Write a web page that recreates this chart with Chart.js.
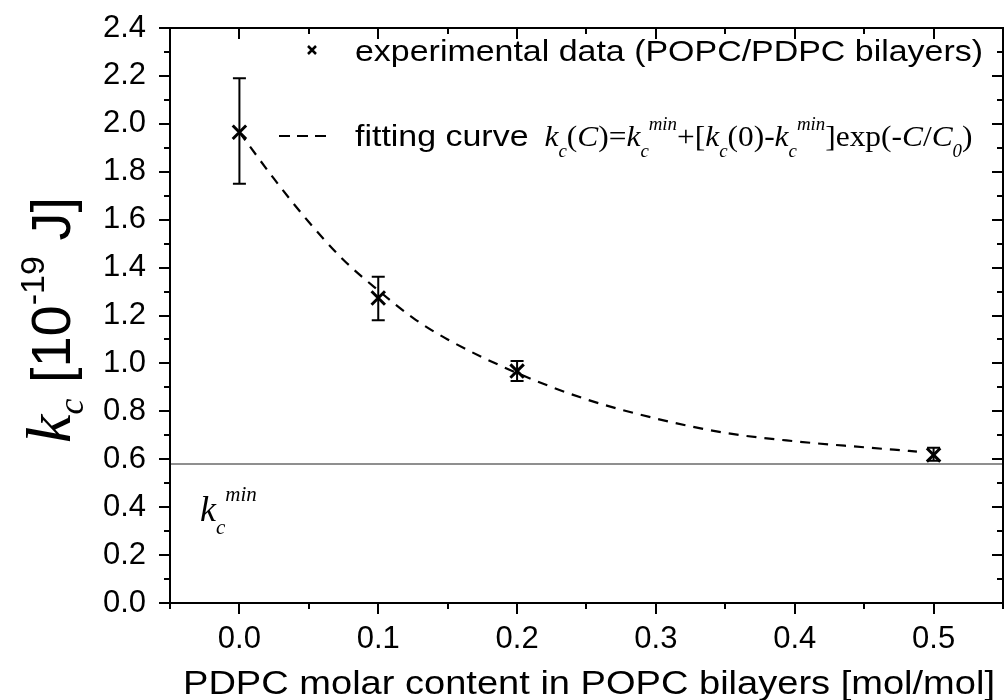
<!DOCTYPE html>
<html>
<head>
<meta charset="utf-8">
<script src="https://cdn.jsdelivr.net/npm/chart.js@4.4.1/dist/chart.umd.min.js"></script>
<style>
html,body{margin:0;padding:0;background:#fff;}
#wrap{width:1007px;height:700px;position:relative;}
</style>
</head>
<body>
<div id="wrap"><canvas id="c" width="1007" height="700"></canvas></div>
<script>
// ---- data ----
const xVals = [0.0, 0.1, 0.2, 0.5];
const yVals = [1.965, 1.273, 0.968, 0.618];
const errLow = [1.75, 1.18, 0.927, 0.594];
const errHigh = [2.19, 1.362, 1.01, 0.648];
const fitX = [0.0, 0.025, 0.05, 0.075, 0.1, 0.125, 0.15, 0.2, 0.25, 0.3, 0.35, 0.4, 0.45, 0.488];
const fitY = [1.965, 1.77, 1.59, 1.432, 1.305, 1.19, 1.10, 0.96, 0.85, 0.77, 0.71, 0.675, 0.65, 0.632];
const kMin = [0.58, 0.58];
const kMinX = [-0.05, 0.55];
const xMajor = [0.0, 0.1, 0.2, 0.3, 0.4, 0.5];
const xMinor = [-0.05, 0.05, 0.15, 0.25, 0.35, 0.45, 0.55];
const yMajor = [0.0, 0.2, 0.4, 0.6, 0.8, 1.0, 1.2, 1.4, 1.6, 1.8, 2.0, 2.2, 2.4];
const yMinor = [0.1, 0.3, 0.5, 0.7, 0.9, 1.1, 1.3, 1.5, 1.7, 1.9, 2.1, 2.3];
const legendLabels = ["experimental data (POPC/PDPC bilayers)", "fitting curve"];
const xTitle = "PDPC molar content in POPC bilayers [mol/mol]";

const SANS = '"Liberation Sans", Arial, sans-serif';
const SERIF = '"Liberation Serif", "Times New Roman", serif';

function drawRuns(ctx, runs, x, y, align, targetW) {
  let w = 0;
  runs.forEach(r => { ctx.font = r.font; r.w = ctx.measureText(r.t).width; w += r.w; });
  const sx = targetW ? targetW / w : 1;
  ctx.save();
  ctx.translate(align === 'center' ? x - (w * sx) / 2 : x, y);
  ctx.scale(sx, 1);
  ctx.textBaseline = 'alphabetic';
  ctx.textAlign = 'left';
  let cx = 0;
  runs.forEach(r => { ctx.font = r.font; ctx.fillText(r.t, cx, r.dy || 0); cx += r.w; });
  ctx.restore();
}

const decor = {
  id: 'decor',
  beforeDatasetsDraw(chart) {
    const ctx = chart.ctx, xs = chart.scales.x, ys = chart.scales.y;
    ctx.save();
    ctx.strokeStyle = '#000'; ctx.lineWidth = 2;
    xVals.forEach((xv, i) => {
      const px = xs.getPixelForValue(xv);
      const pl = ys.getPixelForValue(errLow[i]), ph = ys.getPixelForValue(errHigh[i]);
      ctx.beginPath();
      ctx.moveTo(px, pl); ctx.lineTo(px, ph);
      ctx.moveTo(px - 6.5, pl); ctx.lineTo(px + 6.5, pl);
      ctx.moveTo(px - 6.5, ph); ctx.lineTo(px + 6.5, ph);
      ctx.stroke();
    });
    ctx.restore();
  },
  afterDraw(chart) {
    const ctx = chart.ctx, xs = chart.scales.x, ys = chart.scales.y, a = chart.chartArea;
    ctx.save();
    ctx.strokeStyle = '#000'; ctx.fillStyle = '#000';
    ctx.lineWidth = 2;
    ctx.strokeRect(a.left, a.top, a.right - a.left, a.bottom - a.top);
    ctx.beginPath();
    const tick = (vals, len) => {
      vals.forEach(v => {
        const px = Math.round(xs.getPixelForValue(v));
        ctx.moveTo(px, a.bottom); ctx.lineTo(px, a.bottom + len);
        ctx.moveTo(px, a.top); ctx.lineTo(px, a.top + len);
      });
    };
    const ytick = (vals, len) => {
      vals.forEach(v => {
        const py = Math.round(ys.getPixelForValue(v));
        ctx.moveTo(a.left, py); ctx.lineTo(a.left - len, py);
        ctx.moveTo(a.right, py); ctx.lineTo(a.right - len, py);
      });
    };
    tick(xMajor, 11); tick(xMinor, 6);
    ytick(yMajor, 11); ytick(yMinor, 6);
    ctx.stroke();

    // legend
    const r1 = 50;
    ctx.lineWidth = 2.5;
    ctx.beginPath();
    ctx.moveTo(308, r1 - 4); ctx.lineTo(316, r1 + 4);
    ctx.moveTo(316, r1 - 4); ctx.lineTo(308, r1 + 4);
    ctx.stroke();
    ctx.lineWidth = 2;
    ctx.setLineDash([11, 7]);
    ctx.beginPath(); ctx.moveTo(279, 136); ctx.lineTo(331, 136); ctx.stroke();
    ctx.setLineDash([]);
    const L = '30px ' + SANS;
    drawRuns(ctx, [{t: legendLabels[0], font: L}], 355, r1 + 11, 'left', 628);
    ctx.font = L;
    const fw = ctx.measureText(legendLabels[1]).width * 628 / ctx.measureText(legendLabels[0]).width;
    drawRuns(ctx, [{t: legendLabels[1], font: L}], 355, 146, 'left', fw);

    const M = 'italic 30px ' + SERIF, R = '30px ' + SERIF, S = 'italic 18px ' + SERIF;
    drawRuns(ctx, [
      {t:'k', font:M}, {t:'c', font:S, dy:11}, {t:'(', font:R}, {t:'C', font:M}, {t:')', font:R},
      {t:'=', font:R}, {t:'k', font:M}, {t:'c', font:S, dy:11}, {t:'min', font:S, dy:-16},
      {t:'+[', font:R}, {t:'k', font:M}, {t:'c', font:S, dy:11}, {t:'(0)-', font:R},
      {t:'k', font:M}, {t:'c', font:S, dy:11}, {t:'min', font:S, dy:-16},
      {t:']exp(-', font:R}, {t:'C', font:M}, {t:'/', font:R}, {t:'C', font:M},
      {t:'0', font:S, dy:11}, {t:')', font:R}
    ], 355 + fw + 16, 146, 'left', 428);

    // k_c^min label
    drawRuns(ctx, [
      {t:'k', font:'italic 36px ' + SERIF}, {t:'c', font:'italic 21px ' + SERIF, dy:13},
      {t:'min', font:'italic 21px ' + SERIF, dy:-20}
    ], 200, 521, 'left');

    // x title
    drawRuns(ctx, [{t: xTitle, font: '34px ' + SANS}], 589, 694, 'center', 812);

    // y title
    ctx.save();
    ctx.translate(70, 320);
    ctx.rotate(-Math.PI / 2);
    drawRuns(ctx, [
      {t:'k', font:'italic 64px ' + SERIF}, {t:'c', font:'italic 36px ' + SERIF, dy:13},
      {t:' [10', font:'56px ' + SANS}, {t:'-19', font:'34px ' + SANS, dy:-26},
      {t:' J]', font:'56px ' + SANS}
    ], 0, 0, 'center');
    ctx.restore();
    ctx.restore();
  }
};

new Chart(document.getElementById('c'), {
  type: 'scatter',
  data: {
    datasets: [
      {
        label: 'kmin',
        data: kMinX.map((x, i) => ({x, y: kMin[i]})),
        showLine: true, borderColor: '#6a6a6a', borderWidth: 1.5,
        pointRadius: 0, order: 3
      },
      {
        label: 'fit',
        data: fitX.map((x, i) => ({x, y: fitY[i]})),
        showLine: true, borderColor: '#000', borderWidth: 2.2,
        borderDash: [10, 8], pointRadius: 0,
        cubicInterpolationMode: 'monotone', order: 2
      },
      {
        label: 'exp',
        data: xVals.map((x, i) => ({x, y: yVals[i]})),
        pointStyle: 'crossRot', pointRadius: 9.5, borderWidth: 3,
        borderColor: '#000', backgroundColor: '#000', order: 1
      }
    ]
  },
  options: {
    responsive: false,
    animation: false,
    devicePixelRatio: 1,
    layout: { autoPadding: false, padding: { left: 0, right: 4, top: 28, bottom: 0 } },
    plugins: { legend: { display: false }, tooltip: { enabled: false } },
    scales: {
      x: {
        type: 'linear', min: -0.05, max: 0.55,
        afterBuildTicks: s => { s.ticks = xMajor.map(v => ({value: v})); },
        afterFit: s => { s.height = 97; s.paddingLeft = 0; s.paddingRight = 0; },
        grid: { display: false }, border: { display: false },
        ticks: { color: '#000', font: { family: SANS, size: 31 }, padding: 10,
                 maxRotation: 0, autoSkip: false, callback: v => v.toFixed(1) }
      },
      y: {
        type: 'linear', min: 0, max: 2.4,
        afterBuildTicks: s => { s.ticks = yMajor.map(v => ({value: v})); },
        afterFit: s => { s.width = 170; s.paddingTop = 0; s.paddingBottom = 0; },
        grid: { display: false }, border: { display: false },
        ticks: { color: '#000', font: { family: SANS, size: 31 }, padding: 16,
                 autoSkip: false, callback: v => v.toFixed(1) }
      }
    }
  },
  plugins: [decor]
});
</script>
</body>
</html>
